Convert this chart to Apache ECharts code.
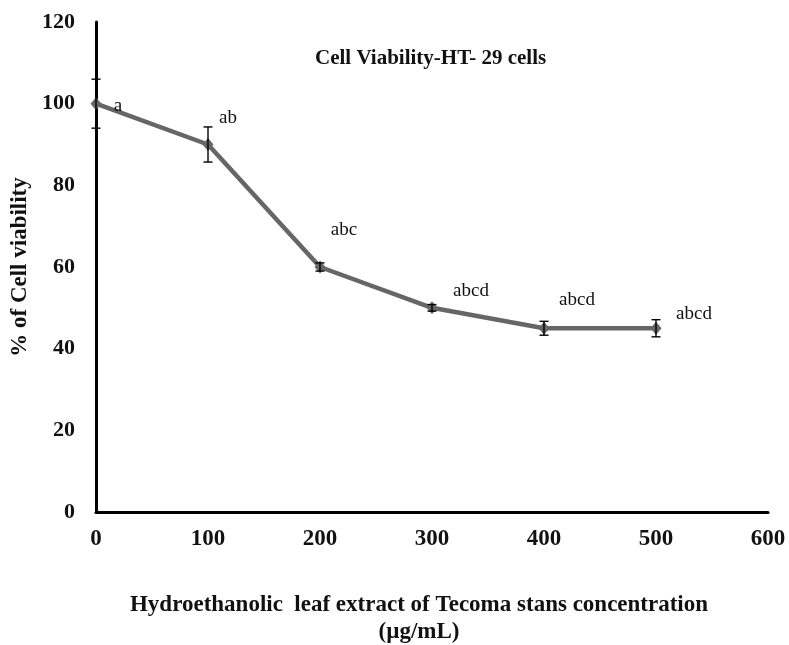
<!DOCTYPE html>
<html><head><meta charset="utf-8">
<script src="https://cdn.jsdelivr.net/npm/echarts@6/dist/echarts.min.js"></script>
<style>html,body{margin:0;padding:0;background:#fff}#c{width:789px;height:645px}</style>
</head><body><div id="c"></div>
<script>
const concentrations = [0, 100, 200, 300, 400, 500];
const viability = [100, 90, 60, 50, 45, 45];
const errors = [6, 4.3, 1, 0.8, 1.7, 2.1];
const letters = ['a', 'ab', 'abc', 'abcd', 'abcd', 'abcd'];
const labelOffsets = [[22, 2], [20, -26], [24, -37], [39, -17], [33, -28], [38, -14]];
const xTicks = [0, 100, 200, 300, 400, 500, 600];
const yTicks = [0, 20, 40, 60, 80, 100, 120];

const serif = '"Liberation Serif", "Times New Roman", serif';
const chart = echarts.init(document.getElementById('c'));
const lineData = concentrations.map((x, i) => ({
  value: [x, viability[i]],
  label: { show: true, formatter: letters[i], position: 'inside', offset: labelOffsets[i],
    color: '#111', fontFamily: serif, fontSize: 19 }
}));
const errData = concentrations.map((x, i) => [x, viability[i] - errors[i], viability[i] + errors[i]]);

chart.setOption({
  animation: false,
  backgroundColor: '#fff',
  grid: { left: 96, right: 21, top: 22, bottom: 133, containLabel: false },
  xAxis: {
    type: 'value', min: xTicks[0], max: xTicks[xTicks.length - 1], interval: 100,
    axisLine: { lineStyle: { color: '#000', width: 3 } },
    axisTick: { show: false }, splitLine: { show: false },
    axisLabel: { color: '#111', fontFamily: serif, fontWeight: 'bold', fontSize: 23, margin: 16 }
  },
  yAxis: {
    type: 'value', min: yTicks[0], max: yTicks[yTicks.length - 1], interval: 20,
    axisLine: { show: true, lineStyle: { color: '#000', width: 3 } },
    axisTick: { show: false }, splitLine: { show: false },
    axisLabel: { color: '#111', fontFamily: serif, fontWeight: 'bold', fontSize: 22, margin: 21 },
    name: '% of Cell viability', nameLocation: 'middle', nameGap: 64, nameRotate: 90,
    nameTextStyle: { color: '#111', fontFamily: serif, fontWeight: 'bold', fontSize: 23 }
  },
  graphic: [
    { type: 'text', style: { text: 'Cell Viability-HT- 29 cells', x: 315, y: 59, textVerticalAlign: 'middle',
        fill: '#111', font: 'bold 21px ' + serif } },
    { type: 'text', style: { text: 'Hydroethanolic  leaf extract of Tecoma stans concentration',
        x: 419, y: 605, textAlign: 'center', textVerticalAlign: 'middle', fill: '#111', font: 'bold 23px ' + serif } },
    { type: 'text', style: { text: '(µg/mL)', x: 419, y: 632, textAlign: 'center', textVerticalAlign: 'middle',
        fill: '#111', font: 'bold 23px ' + serif } }
  ],
  series: [
    {
      type: 'custom', z: 3,
      data: errData,
      renderItem: function (params, api) {
        const x = api.value(0);
        const lo = api.coord([x, api.value(1)]);
        const hi = api.coord([x, api.value(2)]);
        const w = 4.5;
        const st = { stroke: '#000', lineWidth: 1.4 };
        return { type: 'group', children: [
          { type: 'line', shape: { x1: lo[0], y1: lo[1], x2: hi[0], y2: hi[1] }, style: st },
          { type: 'line', shape: { x1: lo[0] - w, y1: lo[1], x2: lo[0] + w, y2: lo[1] }, style: st },
          { type: 'line', shape: { x1: hi[0] - w, y1: hi[1], x2: hi[0] + w, y2: hi[1] }, style: st }
        ]};
      }
    },
    {
      type: 'line', z: 2, data: lineData,
      symbol: 'diamond', symbolSize: [11, 13],
      lineStyle: { color: '#666', width: 4.5 },
      itemStyle: { color: '#666' }
    }
  ]
});
</script></body></html>
